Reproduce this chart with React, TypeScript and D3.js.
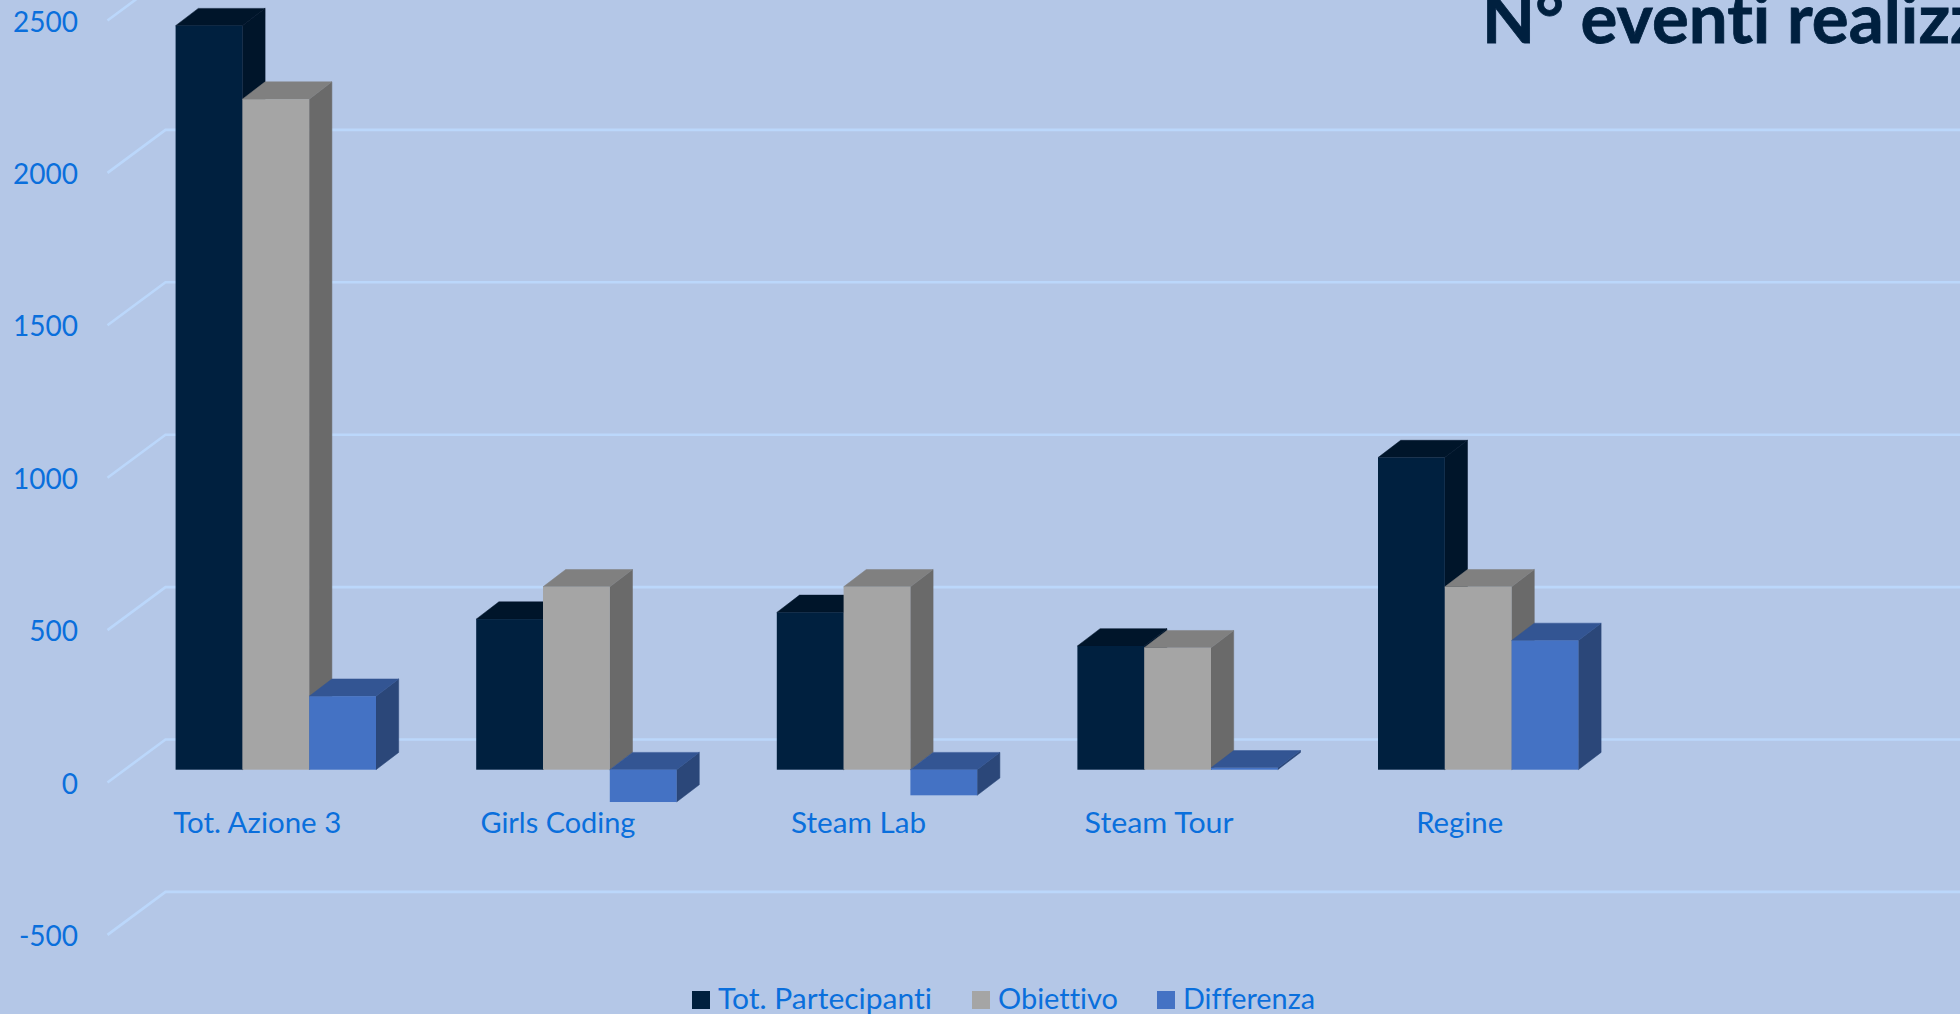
import React from "react";
import * as d3 from "d3";

const categories = ["Tot. Azione 3", "Girls Coding", "Steam Lab", "Steam Tour", "Regine"];
const seriesNames = ["Tot. Partecipanti", "Obiettivo", "Differenza"];
const totPartecipanti = [2441, 494, 516, 406, 1024];
const obiettivo = [2200, 600, 600, 400, 600];
const differenza = [241, -106, -84, 6, 424];
const seriesValues = [totPartecipanti, obiettivo, differenza];
const yTicks = [-500, 0, 500, 1000, 1500, 2000, 2500];

const WIDTH = 1960;
const HEIGHT = 1014;
const BG = "#B4C7E7";
const GRID = "#BBD7FB";
const TEXT = "#0A6FDC";
const TITLE = "#00203F";
const FONT = "Lato, 'Open Sans', sans-serif";
const FACES = [
  { front: "#00203F", top: "#00152A", side: "#00152A" },
  { front: "#A5A5A5", top: "#808080", side: "#6A6A6A" },
  { front: "#4472C4", top: "#335593", side: "#2B4779" },
];
const LEGEND = [
  { sq: 692, tx: 718, w: 214 },
  { sq: 972, tx: 998, w: 120 },
  { sq: 1157, tx: 1183, w: 132 },
];
const CAT_W = [168, 155, 135, 149, 87];

// Depth of a bar, and depth of the floor/wall side lines
const DX = 22.7;
const DY = 17.3;
const WALL_X = 165.5;
const TICK_X = 107.5;
const WALL_DY = 43;

const yBar = d3.scaleLinear().domain([0, 2500]).range([769.7, 7.7]);
const yWall = d3.scaleLinear().domain([0, 2500]).range([739.5, -22.5]);
const xGroup = d3
  .scaleBand<string>()
  .domain(categories)
  .range([175.6, 175.6 + 300.6 * 4 + 200.4])
  .paddingInner(1 / 3)
  .paddingOuter(0);
const xBar = d3
  .scaleBand<string>()
  .domain(seriesNames)
  .range([0, xGroup.bandwidth()]);

const poly = (pts: [number, number][]) => pts.map((p) => p.join(",")).join(" ");

function Bar({ x, w, value, face }: { x: number; w: number; value: number; face: (typeof FACES)[number] }) {
  const y0 = yBar(0);
  const yv = yBar(value);
  const yTop = Math.min(y0, yv);
  const yBot = Math.max(y0, yv);
  return (
    <g>
      <polygon
        fill={face.side}
        stroke={face.side}
        strokeWidth={0.5}
        points={poly([
          [x + w, yTop],
          [x + w + DX, yTop - DY],
          [x + w + DX, yBot - DY],
          [x + w, yBot],
        ])}
      />
      <polygon
        fill={face.top}
        stroke={face.top}
        strokeWidth={0.5}
        points={poly([
          [x, yTop],
          [x + DX, yTop - DY],
          [x + w + DX, yTop - DY],
          [x + w, yTop],
        ])}
      />
      <rect x={x} y={yTop} width={w} height={yBot - yTop} fill={face.front} />
    </g>
  );
}

export default function App() {
  return (
    <svg
      width={WIDTH}
      height={HEIGHT}
      viewBox={`0 0 ${WIDTH} ${HEIGHT}`}
      style={{ position: "fixed", left: 0, top: 0, display: "block", fontVariantLigatures: "none" }}
      fontFamily={FONT}
    >
      <rect width={WIDTH} height={HEIGHT} fill={BG} />
      {yTicks.map((t) => (
        <g key={t}>
          <polyline
            fill="none"
            stroke={GRID}
            strokeWidth={2.6}
            points={poly([
              [TICK_X, yWall(t) + WALL_DY],
              [WALL_X, yWall(t)],
              [WIDTH, yWall(t)],
            ])}
          />
          <text x={78} y={yWall(t) + 54} textAnchor="end" fontSize={28} fill={TEXT}>
            {t}
          </text>
        </g>
      ))}
      {categories.map((c, i) => (
        <g key={c}>
          {seriesNames.map((s, j) => (
            <Bar
              key={s}
              x={(xGroup(c) as number) + (xBar(s) as number)}
              w={xBar.bandwidth()}
              value={seriesValues[j][i]}
              face={FACES[j]}
            />
          ))}
          <text
            x={(xGroup(c) as number) + xGroup.bandwidth() / 2 - 18.5}
            y={833}
            textAnchor="middle"
            fontSize={28}
            fill={TEXT}
            textLength={CAT_W[i]}
            lengthAdjust="spacingAndGlyphs"
          >
            {c}
          </text>
        </g>
      ))}
      {seriesNames.map((s, j) => (
        <g key={s}>
          <rect x={LEGEND[j].sq} y={991} width={18} height={18} fill={FACES[j].front} />
          <text
            x={LEGEND[j].tx}
            y={1008.5}
            fontSize={28}
            fill={TEXT}
            textLength={LEGEND[j].w}
            lengthAdjust="spacingAndGlyphs"
          >
            {s}
          </text>
        </g>
      ))}
      <text x={1482} y={43} fontSize={69} fontWeight={700} fill={TITLE} stroke={TITLE} strokeWidth={0.8}>
        N° eventi realizzati
      </text>
    </svg>
  );
}
